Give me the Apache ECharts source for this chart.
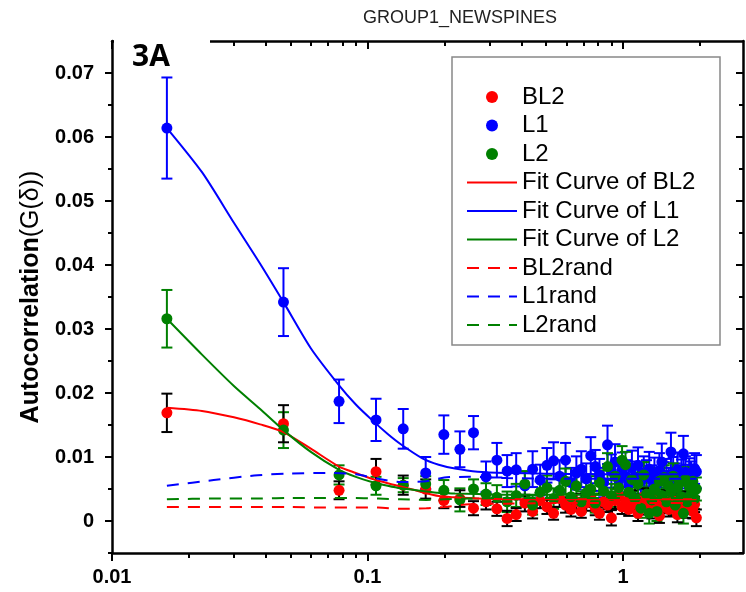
<!DOCTYPE html>
<html>
<head>
<meta charset="utf-8">
<script src="https://cdn.jsdelivr.net/npm/echarts@6/dist/echarts.min.js"></script>
<style>
html,body{margin:0;padding:0;background:#fff;}
#chart{width:746px;height:592px;}
</style>
</head>
<body>
<div id="chart"></div>
<script>
// ---- data ----
const xVals = [
  0.0164, 0.0469, 0.0774, 0.108, 0.138, 0.169, 0.199, 0.230, 0.260, 0.291,
  0.321, 0.352, 0.382, 0.413, 0.443, 0.474, 0.504, 0.535, 0.565, 0.596,
  0.626, 0.657, 0.687, 0.718, 0.748, 0.779, 0.809, 0.840, 0.870, 0.901,
  0.931, 0.962, 0.992, 1.023, 1.053, 1.084, 1.114, 1.145, 1.175, 1.206,
  1.236, 1.267, 1.297, 1.328, 1.358, 1.389, 1.419, 1.450, 1.480, 1.511,
  1.541, 1.572, 1.602, 1.633, 1.663, 1.694, 1.724, 1.755, 1.785, 1.816,
  1.846, 1.877, 1.907, 1.938
];
const l1Vals = [
  0.0614, 0.0342, 0.0187, 0.0158, 0.0144, 0.0075, 0.0135, 0.0112, 0.0138, 0.0069,
  0.0095, 0.0078, 0.0080, 0.0055, 0.0081, 0.0064, 0.0087, 0.0094, 0.0070, 0.0095,
  0.0060, 0.0075, 0.0081, 0.0066, 0.0102, 0.0085, 0.0072, 0.0060, 0.0119, 0.0078,
  0.0092, 0.0065, 0.0080, 0.0070, 0.0058, 0.0083, 0.0068, 0.0087, 0.0062, 0.0075,
  0.0070, 0.0081, 0.0064, 0.0073, 0.0058, 0.0079, 0.0092, 0.0067, 0.0071, 0.0060,
  0.0108, 0.0074, 0.0066, 0.0080, 0.0062, 0.0070, 0.0105, 0.0076, 0.0064, 0.0072,
  0.0068, 0.0059, 0.0082, 0.0077
];
const l1Err = [
  0.0079, 0.0053, 0.0034, 0.0033, 0.0031, 0.0025, 0.0030, 0.0028, 0.0026, 0.0024,
  0.0027, 0.0025, 0.0026, 0.0022, 0.0028, 0.0024, 0.0027, 0.0029, 0.0025, 0.0027,
  0.0023, 0.0026, 0.0028, 0.0024, 0.0029, 0.0026, 0.0025, 0.0023, 0.0030, 0.0026,
  0.0028, 0.0024, 0.0027, 0.0025, 0.0023, 0.0027, 0.0025, 0.0028, 0.0024, 0.0026,
  0.0025, 0.0027, 0.0023, 0.0026, 0.0024, 0.0027, 0.0029, 0.0025, 0.0026, 0.0023,
  0.0030, 0.0026, 0.0024, 0.0027, 0.0025, 0.0026, 0.0028, 0.0025, 0.0024, 0.0026,
  0.0025, 0.0027, 0.0024, 0.0026
];
const l2Vals = [
  0.0316, 0.0142, 0.0072, 0.0055, 0.0056, 0.0058, 0.0048, 0.0033, 0.0050, 0.0042,
  0.0037, 0.0030, 0.0040, 0.0058, 0.0025, 0.0045, 0.0052, 0.0035, 0.0048, 0.0062,
  0.0038, 0.0055, 0.0030, 0.0044, 0.0050, 0.0028, 0.0060, 0.0047, 0.0085, 0.0040,
  0.0070, 0.0052, 0.0095, 0.0088, 0.0045, 0.0065, 0.0035, 0.0058, 0.0020, 0.0072,
  0.0042, 0.0012, 0.0033, 0.0050, 0.0015, 0.0062, 0.0040, 0.0068, 0.0030, 0.0055,
  0.0045, 0.0070, 0.0025, 0.0052, 0.0060, 0.0038, 0.0012, 0.0065, 0.0030, 0.0055,
  0.0042, 0.0062, 0.0035, 0.0050
];
const l2Err = [
  0.0045, 0.0028, 0.0015, 0.0014, 0.0011, 0.0012, 0.0016, 0.0018, 0.0015, 0.0017,
  0.0019, 0.0016, 0.0018, 0.0020, 0.0015, 0.0017, 0.0019, 0.0016, 0.0018, 0.0020,
  0.0017, 0.0019, 0.0016, 0.0018, 0.0020, 0.0015, 0.0019, 0.0017, 0.0021, 0.0018,
  0.0020, 0.0017, 0.0022, 0.0020, 0.0016, 0.0019, 0.0017, 0.0018, 0.0015, 0.0020,
  0.0018, 0.0016, 0.0017, 0.0019, 0.0015, 0.0020, 0.0017, 0.0019, 0.0016, 0.0018,
  0.0017, 0.0020, 0.0016, 0.0018, 0.0019, 0.0017, 0.0016, 0.0019, 0.0017, 0.0018,
  0.0017, 0.0019, 0.0016, 0.0018
];
const bl2Vals = [
  0.0169, 0.0152, 0.0048, 0.0077, 0.0056, 0.0050, 0.0032, 0.0035, 0.0020, 0.0030,
  0.0019, 0.0004, 0.0010, 0.0028, 0.0015, 0.0032, 0.0022, 0.0012, 0.0035, 0.0025,
  0.0018, 0.0030, 0.0015, 0.0028, 0.0035, 0.0020, 0.0012, 0.0030, 0.0025, 0.0005,
  0.0032, 0.0040, 0.0022, 0.0030, 0.0018, 0.0035, 0.0027, 0.0012, 0.0030, 0.0038,
  0.0020, 0.0028, 0.0015, 0.0033, 0.0025, 0.0008, 0.0030, 0.0022, 0.0036, 0.0018,
  0.0028, 0.0032, 0.0020, 0.0010, 0.0030, 0.0025, 0.0035, 0.0018, 0.0028, 0.0022,
  0.0030, 0.0015, 0.0026, 0.0005
];
const bl2Err = [
  0.0030, 0.0029, 0.0014, 0.0020, 0.0015, 0.0015, 0.0012, 0.0013, 0.0011, 0.0012,
  0.0011, 0.0012, 0.0010, 0.0013, 0.0011, 0.0012, 0.0011, 0.0010, 0.0013, 0.0012,
  0.0011, 0.0012, 0.0010, 0.0012, 0.0013, 0.0011, 0.0010, 0.0012, 0.0011, 0.0012,
  0.0013, 0.0012, 0.0011, 0.0012, 0.0010, 0.0013, 0.0011, 0.0012, 0.0011, 0.0013,
  0.0010, 0.0012, 0.0011, 0.0012, 0.0013, 0.0011, 0.0012, 0.0010, 0.0012, 0.0011,
  0.0012, 0.0013, 0.0011, 0.0012, 0.0010, 0.0012, 0.0011, 0.0013, 0.0012, 0.0011,
  0.0012, 0.0011, 0.0012, 0.0013
];
// fit curves
const fitX   = [0.0164, 0.0225, 0.03, 0.038, 0.0469, 0.06, 0.0774, 0.09, 0.104, 0.12, 0.135, 0.164, 0.19, 0.22, 0.27, 0.35, 0.5, 0.8, 1.2, 1.94];
const fitL1  = [0.0614, 0.0545, 0.0466, 0.0402, 0.0342, 0.0270, 0.0212, 0.0182, 0.0158, 0.0136, 0.0120, 0.0098, 0.0088, 0.0082, 0.0077, 0.0075, 0.0074, 0.0073, 0.0073, 0.0073];
const fitL2  = [0.0316, 0.0260, 0.0211, 0.0175, 0.0142, 0.0108, 0.0080, 0.0069, 0.0061, 0.0055, 0.0051, 0.0047, 0.0044, 0.0043, 0.0042, 0.0041, 0.0041, 0.0041, 0.0041, 0.0041];
const fitBL2 = [0.0177, 0.0172, 0.0162, 0.0151, 0.0139, 0.0113, 0.0085, 0.0075, 0.0066, 0.0059, 0.0054, 0.0045, 0.0039, 0.0037, 0.0035, 0.0034, 0.0034, 0.0034, 0.0034, 0.0034];
// random-control curves
const randX   = [0.0164, 0.025, 0.036, 0.048, 0.069, 0.09, 0.11, 0.135, 0.17, 0.2, 0.25, 0.35, 0.6, 1.0, 1.94];
const randL1  = [0.0055, 0.0064, 0.0071, 0.0074, 0.0075, 0.0073, 0.0066, 0.0061, 0.0062, 0.0068, 0.0069, 0.0067, 0.0066, 0.0066, 0.0066];
const randL2  = [0.0034, 0.0035, 0.0035, 0.0036, 0.0036, 0.0036, 0.0035, 0.0034, 0.0033, 0.0034, 0.0035, 0.0036, 0.0036, 0.0036, 0.0036];
const randBL2 = [0.0022, 0.0022, 0.0022, 0.0022, 0.0021, 0.0021, 0.0021, 0.0019, 0.0020, 0.0022, 0.0026, 0.0027, 0.0028, 0.0028, 0.0028];
// axis ticks
const xMajor = [0.01, 0.1, 1];
const xMinor = [0.02,0.03,0.04,0.05,0.06,0.07,0.08,0.09,0.2,0.3,0.4,0.5,0.6,0.7,0.8,0.9,2];
const yMajor = [0, 0.01, 0.02, 0.03, 0.04, 0.05, 0.06, 0.07];
const yMinor = [-0.005, 0.005, 0.015, 0.025, 0.035, 0.045, 0.055, 0.065];
const pointNames = ['BL2','L1','L2'];
const lineNames = ['Fit Curve of BL2','Fit Curve of L1','Fit Curve of L2','BL2rand','L1rand','L2rand'];

// ---- chart ----
const RED = '#ff0000', BLUE = '#0000ff', GREEN = '#008000';
const FONT = '"Liberation Sans", Arial, sans-serif';
const chart = echarts.init(document.getElementById('chart'), null, {renderer: 'canvas'});

function pts(xs, ys) { return xs.map((x, i) => [x, ys[i]]); }
function errData(ys, es) { return xVals.map((x, i) => [x, ys[i], es[i]]); }
function errSeries(ys, es, color, z) {
  return {
    type: 'custom', silent: true, z: z,
    data: errData(ys, es),
    encode: {x: 0, y: 1},
    renderItem: function (params, api) {
      const x = api.value(0), y = api.value(1), e = api.value(2);
      const p = api.coord([x, y + e]);
      const q = api.coord([x, y - e]);
      const w = 5.5;
      const st = {stroke: color, lineWidth: 2};
      return {type: 'group', children: [
        {type: 'line', shape: {x1: p[0], y1: p[1], x2: q[0], y2: q[1]}, style: st},
        {type: 'line', shape: {x1: p[0] - w, y1: p[1], x2: p[0] + w, y2: p[1]}, style: st},
        {type: 'line', shape: {x1: q[0] - w, y1: q[1], x2: q[0] + w, y2: q[1]}, style: st}
      ]};
    }
  };
}
function scat(name, ys, color, z) {
  return {name: name, type: 'scatter', z: z, symbol: 'circle', symbolSize: 11,
    itemStyle: {color: color, opacity: 1}, data: pts(xVals, ys)};
}
function line(name, xs, ys, color, dashed, z) {
  return {name: name, type: 'line', z: z, symbol: 'none', showSymbol: false, smooth: 0.25,
    lineStyle: {color: color, width: 2, type: dashed ? [12, 9] : 'solid'},
    itemStyle: {color: color},
    data: pts(xs, ys)};
}

const yBase = {type: 'value', min: -0.005, max: 0.075, interval: 0.005, splitLine: {show: false}};
const xBase = {type: 'log', logBase: 10, min: 0.01, max: 2.95, splitLine: {show: false}};

const legendData = pointNames.map(n => ({name: n}))
  .concat(lineNames.map(n => ({name: n, itemStyle: {color: 'rgba(0,0,0,0)', opacity: 0, borderWidth: 0}})));

const option = {
  animation: false,
  backgroundColor: '#fff',
  grid: {left: 112, right: 3, top: 41, bottom: 39, containLabel: false},
  legend: {
    orient: 'vertical', left: 466, top: 85, padding: 0,
    itemWidth: 50, itemHeight: 12, itemGap: 4.5,
    selectedMode: false,
    textStyle: {fontSize: 24, fontFamily: FONT, color: '#000', lineHeight: 24},
    data: legendData
  },
  xAxis: [
    Object.assign({}, xBase, {position: 'bottom',
      axisLine: {show: true, onZero: false, lineStyle: {color: '#000', width: 2.5}},
      axisTick: {show: true, inside: false, length: 8, customValues: xMajor, lineStyle: {color: '#000', width: 2}},
      axisLabel: {show: true, customValues: xMajor, margin: 14, color: '#000', fontSize: 20, fontWeight: 'bold', fontFamily: FONT,
        formatter: function (v) { return v >= 1 ? String(Math.round(v)) : (v >= 0.1 ? '0.1' : '0.01'); }}}),
    Object.assign({}, xBase, {position: 'bottom',
      axisLine: {show: false, onZero: false},
      axisTick: {show: true, inside: false, length: 5, customValues: xMinor, lineStyle: {color: '#000', width: 2}},
      axisLabel: {show: false}}),
    Object.assign({}, xBase, {position: 'top',
      axisLine: {show: true, onZero: false, lineStyle: {color: '#000', width: 2.5}},
      axisTick: {show: true, inside: true, length: 8, customValues: xMajor, lineStyle: {color: '#000', width: 2}},
      axisLabel: {show: false}}),
    Object.assign({}, xBase, {position: 'top',
      axisLine: {show: false, onZero: false},
      axisTick: {show: true, inside: true, length: 5, customValues: xMinor, lineStyle: {color: '#000', width: 2}},
      axisLabel: {show: false}})
  ],
  yAxis: [
    Object.assign({}, yBase, {position: 'left',
      name: '{b|Autocorrelation}{n|(G(δ))}', nameLocation: 'middle', nameGap: 68, nameRotate: 90,
      nameTextStyle: {color: '#000', fontFamily: FONT, rich: {
        b: {fontSize: 25, fontWeight: 'bold', fontFamily: FONT, color: '#000'},
        n: {fontSize: 25, fontWeight: 'normal', fontFamily: FONT, color: '#000'}}},
      axisLine: {show: true, onZero: false, lineStyle: {color: '#000', width: 2.5}},
      axisTick: {show: true, inside: false, length: 7, customValues: yMajor, lineStyle: {color: '#000', width: 2}},
      axisLabel: {show: true, customValues: yMajor, margin: 18, color: '#000', fontSize: 20, fontWeight: 'bold', fontFamily: FONT,
        formatter: function (v) { return Math.abs(v) < 1e-9 ? '0' : v.toFixed(2); }}}),
    Object.assign({}, yBase, {position: 'left',
      axisLine: {show: false, onZero: false},
      axisTick: {show: true, inside: false, length: 4, customValues: yMinor, lineStyle: {color: '#000', width: 2}},
      axisLabel: {show: false}}),
    Object.assign({}, yBase, {position: 'right',
      axisLine: {show: true, onZero: false, lineStyle: {color: '#000', width: 2.5}},
      axisTick: {show: true, inside: true, length: 7, customValues: yMajor, lineStyle: {color: '#000', width: 2}},
      axisLabel: {show: false}}),
    Object.assign({}, yBase, {position: 'right',
      axisLine: {show: false, onZero: false},
      axisTick: {show: true, inside: true, length: 4, customValues: yMinor, lineStyle: {color: '#000', width: 2}},
      axisLabel: {show: false}})
  ],
  series: [
    errSeries(l1Vals, l1Err, BLUE, 2),
    scat('L1', l1Vals, BLUE, 2),
    scat('BL2', bl2Vals, RED, 2),
    errSeries(l2Vals, l2Err, GREEN, 2),
    scat('L2', l2Vals, GREEN, 2),
    errSeries(bl2Vals, bl2Err, '#000', 2),
    line('Fit Curve of BL2', fitX, fitBL2, RED, false, 3),
    line('Fit Curve of L1', fitX, fitL1, BLUE, false, 3),
    line('Fit Curve of L2', fitX, fitL2, GREEN, false, 3),
    line('BL2rand', randX, randBL2, RED, true, 3),
    line('L1rand', randX, randL1, BLUE, true, 3),
    line('L2rand', randX, randL2, GREEN, true, 3)
  ],
  graphic: [
    {type: 'rect', z: 100, silent: true, shape: {x: 452, y: 57, width: 268, height: 288},
      style: {fill: 'none', stroke: '#888', lineWidth: 1.5}},
    {type: 'text', z: 100, silent: true, x: 460, y: 18,
      style: {text: 'GROUP1_NEWSPINES', fill: '#222', font: '18px ' + FONT, textAlign: 'center', textVerticalAlign: 'middle'}},
    {type: 'rect', z: 100, silent: true, shape: {x: 114, y: 34, width: 96, height: 14},
      style: {fill: '#fff', stroke: 'none'}},
    {type: 'text', z: 101, silent: true, x: 132, y: 57,
      style: {text: '3A', fill: '#000', font: 'bold 30px "Open Sans", ' + FONT, textAlign: 'left', textVerticalAlign: 'middle'}}
  ]
};
option.series.forEach(s => { s.xAxisIndex = 0; s.yAxisIndex = 0; });
chart.setOption(option);
</script>
</body>
</html>
